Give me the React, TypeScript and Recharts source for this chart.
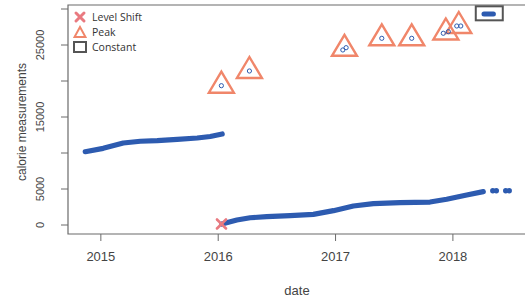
import React from 'react';
import {
  ComposedChart,
  Scatter,
  XAxis,
  YAxis,
  ReferenceArea,
} from 'recharts';

// years as decimals, calories
const upperYears = [2014.867, 2015.02, 2015.191, 2015.336, 2015.48, 2015.651, 2015.821, 2015.932, 2016.034];
const upperValues = [10180, 10650, 11390, 11630, 11710, 11880, 12080, 12290, 12640];

const lowerYears = [2016.031, 2016.159, 2016.272, 2016.414, 2016.613, 2016.811, 2016.982, 2017.152, 2017.322, 2017.549, 2017.805, 2017.947, 2018.118, 2018.259];
const lowerValues = [140, 690, 1010, 1150, 1290, 1480, 1990, 2640, 2960, 3100, 3190, 3570, 4170, 4630];

const tailYears = [2018.34, 2018.37, 2018.45, 2018.48];
const tailValues = [4760, 4760, 4760, 4760];

const peakYears = [2016.027, 2016.266, 2017.062, 2017.09, 2017.394, 2017.649, 2017.918, 2017.961, 2018.033, 2018.067];
const peakValues = [19350, 21390, 24310, 24630, 25930, 25930, 26630, 26850, 27640, 27640];

const peakMarkYears = [2016.027, 2016.266, 2017.076, 2017.394, 2017.649, 2017.94, 2018.05];
const peakMarkValues = [19350, 21390, 24470, 25930, 25930, 26740, 27640];

const constantYears = [2018.265, 2018.345];
const constantValues = [29310, 29310];
const constantMarkYear = 2018.31;
const constantMarkValue = 29400;

const levelShiftYear = 2016.028;
const levelShiftValue = 140;

const xTicks = [2015, 2016, 2017, 2018];
const yTicks = [0, 5000, 10000, 15000, 20000, 25000, 30000];
const yLabelled = [0, 5000, 15000, 25000];

const X_DOMAIN = [2014.72, 2018.64];
const Y_DOMAIN = [-1250, 30556];

const BLUE = '#2d5bb0';
const ORANGE = '#f0866a';
const RED = '#e97a80';
const AXIS = '#6b6b6b';
const TEXT = '#444';

const zip = (xs: number[], ys: number[]) => xs.map((x, i) => ({ x, y: ys[i] }));

const upper = zip(upperYears, upperValues);
const lower = zip(lowerYears, lowerValues);
const tail = zip(tailYears, tailValues);
const peaks = zip(peakYears, peakValues);
const peakMarks = zip(peakMarkYears, peakMarkValues);
const constant = zip(constantYears, constantValues);
const constantMark = [{ x: constantMarkYear, y: constantMarkValue }];
const levelShift = [{ x: levelShiftYear, y: levelShiftValue }];

const Empty = () => <g />;

const Dot = (p: any) => <circle cx={p.cx} cy={p.cy} r={2.7} fill={BLUE} />;

const OpenDot = (p: any) => (
  <circle cx={p.cx} cy={p.cy} r={2.1} fill="none" stroke={BLUE} strokeWidth={1} />
);

const Triangle = (p: any) => (
  <polygon
    points={`${p.cx},${p.cy - 14} ${p.cx - 12.5},${p.cy + 7} ${p.cx + 12.5},${p.cy + 7}`}
    fill="none"
    stroke={ORANGE}
    strokeWidth={2.4}
    strokeLinejoin="miter"
  />
);

const Square = (p: any) => (
  <rect x={p.cx - 13.5} y={p.cy - 7} width={27} height={14} fill="none" stroke="#555" strokeWidth={2} />
);

const Cross = (p: any) => (
  <g stroke={RED} strokeWidth={2.6} strokeLinecap="round">
    <line x1={p.cx - 4.5} y1={p.cy - 4.5} x2={p.cx + 4.5} y2={p.cy + 4.5} />
    <line x1={p.cx - 4.5} y1={p.cy + 4.5} x2={p.cx + 4.5} y2={p.cy - 4.5} />
  </g>
);

const YTick = (p: any) => {
  const v = p.payload?.value;
  if (!yLabelled.includes(v)) return <g />;
  return (
    <text
      transform={`translate(${p.x - 19},${p.y}) rotate(-90)`}
      textAnchor="middle"
      dy="0.35em"
      fill={TEXT}
      fontSize={11}
    >
      {v}
    </text>
  );
};

const legendItems = [
  {
    label: 'Level Shift',
    icon: (
      <g stroke={RED} strokeWidth={3} strokeLinecap="round">
        <line x1={3} y1={3} x2={11} y2={11} />
        <line x1={3} y1={11} x2={11} y2={3} />
      </g>
    ),
  },
  {
    label: 'Peak',
    icon: <polygon points="7,2 1.5,12 12.5,12" fill="none" stroke={ORANGE} strokeWidth={2} />,
  },
  {
    label: 'Constant',
    icon: <rect x={1} y={2} width={12} height={10} fill="none" stroke="#555" strokeWidth={2} />,
  },
];

export default function App() {
  const font = '"Liberation Sans", Arial, sans-serif';
  return (
    <div
      style={{
        position: 'absolute',
        left: 0,
        top: 0,
        width: 525,
        height: 300,
        overflow: 'hidden',
        background: '#fff',
        fontFamily: font,
      }}
    >
      <ComposedChart
        width={540}
        height={300}
        margin={{ top: 5, right: 12, bottom: 6, left: 8 }}
        style={{ fontFamily: font }}
      >
        <XAxis
          type="number"
          dataKey="x"
          domain={X_DOMAIN}
          ticks={xTicks}
          allowDataOverflow
          axisLine={false}
          tickSize={7}
          tickMargin={11}
          tickLine={{ stroke: AXIS }}
          tick={{ fill: TEXT, fontSize: 13 }}
          height={60}
        />
        <YAxis
          type="number"
          dataKey="y"
          domain={Y_DOMAIN}
          ticks={yTicks}
          allowDataOverflow
          axisLine={false}
          tickSize={7}
          tickMargin={2}
          tickLine={{ stroke: AXIS }}
          tick={<YTick />}
          width={60}
        />
        <ReferenceArea
          x1={X_DOMAIN[0]}
          x2={X_DOMAIN[1]}
          y1={Y_DOMAIN[0]}
          y2={Y_DOMAIN[1]}
          fill="none"
          stroke={AXIS}
          strokeWidth={1.2}
          ifOverflow="visible"
        />
        <Scatter
          data={upper}
          shape={<Empty />}
          line={{ stroke: BLUE, strokeWidth: 5.2, strokeLinecap: 'round', strokeLinejoin: 'round' }}
          isAnimationActive={false}
        />
        <Scatter
          data={lower}
          shape={<Empty />}
          line={{ stroke: BLUE, strokeWidth: 5.2, strokeLinecap: 'round', strokeLinejoin: 'round' }}
          isAnimationActive={false}
        />
        <Scatter data={tail} shape={<Dot />} isAnimationActive={false} />
        <Scatter
          data={constant}
          shape={<Empty />}
          line={{ stroke: BLUE, strokeWidth: 5, strokeLinecap: 'round' }}
          isAnimationActive={false}
        />
        <Scatter data={constantMark} shape={<Square />} isAnimationActive={false} />
        <Scatter data={peakMarks} shape={<Triangle />} isAnimationActive={false} />
        <Scatter data={peaks} shape={<OpenDot />} isAnimationActive={false} />
        <Scatter data={levelShift} shape={<Cross />} isAnimationActive={false} />
      </ComposedChart>

      <div style={{ position: 'absolute', left: 73, top: 9, fontFamily: '"Open Sans", sans-serif', fontSize: 10.5, color: '#333' }}>
        {legendItems.map((it) => (
          <div key={it.label} style={{ display: 'flex', alignItems: 'center', height: 15 }}>
            <svg width={14} height={14} style={{ marginRight: 5 }}>
              {it.icon}
            </svg>
            <span>{it.label}</span>
          </div>
        ))}
      </div>

      <div
        style={{
          position: 'absolute',
          left: 22,
          top: 122,
          transform: 'translate(-50%, -50%) rotate(-90deg)',
          whiteSpace: 'nowrap',
          fontSize: 12,
          color: TEXT,
        }}
      >
        calorie measurements
      </div>
      <div
        style={{
          position: 'absolute',
          left: 297,
          top: 290,
          transform: 'translate(-50%, -50%)',
          fontSize: 13,
          color: TEXT,
        }}
      >
        date
      </div>
    </div>
  );
}
